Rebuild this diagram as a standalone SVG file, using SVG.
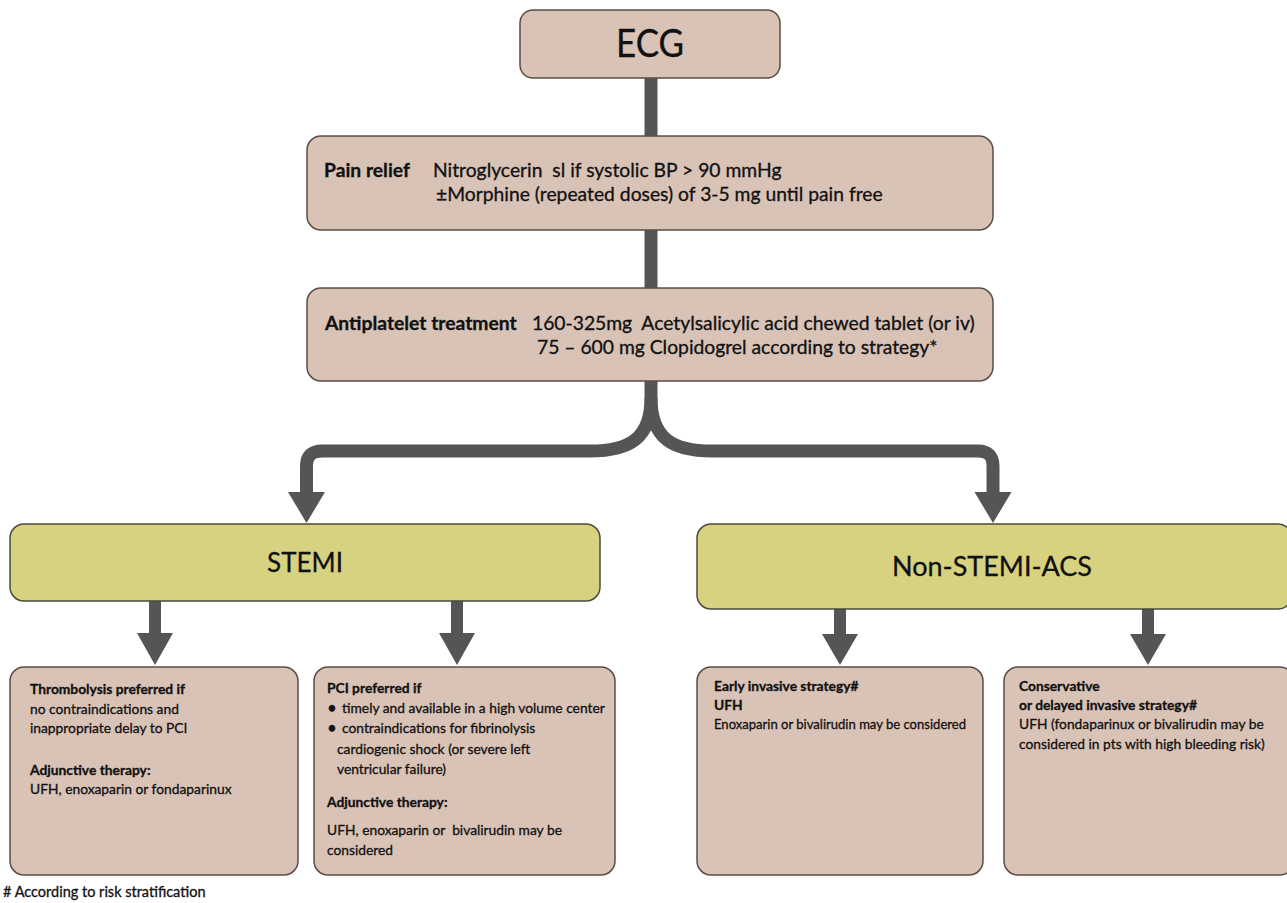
<svg xmlns="http://www.w3.org/2000/svg" width="1287" height="903" viewBox="0 0 1287 903">
<defs>
<style>
.tan{fill:#d9c2b6;stroke:#5b4c46;stroke-width:1.5}
.olive{fill:#d6d27f;stroke:#4b4a3c;stroke-width:1.5}
.t{font-family:Lato,"Liberation Sans",sans-serif;fill:#111;stroke:#111;stroke-width:0.3}
.b{font-weight:bold}
.s{font-size:13.8px}
.m{font-size:19.3px}
.con{fill:none;stroke:#555555;stroke-width:13}
.head{fill:#555555}
</style>
</defs>
<rect width="1287" height="903" fill="#ffffff"/>
<g id="connectors">
<line class="con" x1="651" y1="78" x2="651" y2="137"/>
<line class="con" x1="651" y1="230" x2="651" y2="289"/>
<path class="con" d="M651,381 L651,398 C651,438 630,451 590,451 L322,451 Q306.5,451 306.5,466 L306.5,494"/>
<path class="con" d="M651,398 C651,438 672,451 712,451 L978,451 Q993,451 993,466 L993,494"/>
<polygon class="head" points="288,492 325,492 306.5,523"/>
<polygon class="head" points="974.5,492 1011.5,492 993,523"/>
<rect class="head" x="149" y="601" width="12" height="33"/>
<polygon class="head" points="137,633 173,633 155,665"/>
<rect class="head" x="451" y="601" width="12" height="33"/>
<polygon class="head" points="439,633 475,633 457,665"/>
<rect class="head" x="834" y="609" width="12" height="26"/>
<polygon class="head" points="822,634 858,634 840,665"/>
<rect class="head" x="1142" y="609" width="12" height="26"/>
<polygon class="head" points="1130,634 1166,634 1148,665"/>
</g>
<g id="ecg">
<rect class="tan" x="520" y="10" width="260" height="68" rx="13"/>
<text class="t" x="650" y="57" font-size="38" text-anchor="middle" textLength="68" lengthAdjust="spacingAndGlyphs">ECG</text>
</g>
<g id="pain-relief">
<rect class="tan" x="307" y="136" width="686" height="94" rx="14"/>
<text class="t m b" x="324" y="177">Pain relief</text>
<text class="t m" x="433" y="177" xml:space="preserve">Nitroglycerin  sl if systolic BP &gt; 90 mmHg</text>
<text class="t m" x="436" y="201">±Morphine (repeated doses) of 3-5 mg until pain free</text>
</g>
<g id="antiplatelet">
<rect class="tan" x="307" y="288" width="686" height="93" rx="14"/>
<text class="t m b" x="325" y="330">Antiplatelet treatment</text>
<text class="t m" x="532" y="330" xml:space="preserve">160-325mg  Acetylsalicylic acid chewed tablet (or iv)</text>
<text class="t m" x="537" y="354">75 – 600 mg Clopidogrel according to strategy*</text>
</g>
<g id="stemi">
<rect class="olive" x="10" y="524" width="590" height="77" rx="14"/>
<text class="t" x="305" y="572" font-size="26" text-anchor="middle">STEMI</text>
</g>
<g id="non-stemi">
<rect class="olive" x="697" y="524" width="595" height="85" rx="14"/>
<text class="t" x="992" y="576" font-size="27" text-anchor="middle">Non-STEMI-ACS</text>
</g>
<g id="thrombolysis">
<rect class="tan" x="10" y="667" width="288" height="208" rx="14"/>
<text class="t s b" x="30" y="694">Thrombolysis preferred if</text>
<text class="t s" x="30" y="714">no contraindications and</text>
<text class="t s" x="30" y="733">inappropriate delay to PCI</text>
<text class="t s b" x="30" y="775">Adjunctive therapy:</text>
<text class="t s" x="30" y="794">UFH, enoxaparin or fondaparinux</text>
</g>
<g id="pci">
<rect class="tan" x="314" y="667" width="301" height="208" rx="14"/>
<text class="t s b" x="327" y="693">PCI preferred if</text>
<text class="t" x="327" y="714" font-size="17">•</text>
<text class="t s" x="342" y="713">timely and available in a high volume center</text>
<text class="t" x="327" y="734" font-size="17">•</text>
<text class="t s" x="342" y="733">contraindications for fibrinolysis</text>
<text class="t s" x="337" y="754">cardiogenic shock (or severe left</text>
<text class="t s" x="337" y="774">ventricular failure)</text>
<text class="t s b" x="327" y="807">Adjunctive therapy:</text>
<text class="t s" x="327" y="835" xml:space="preserve">UFH, enoxaparin or  bivalirudin may be</text>
<text class="t s" x="327" y="855">considered</text>
</g>
<g id="early-invasive">
<rect class="tan" x="697" y="667" width="286" height="208" rx="14"/>
<text class="t s b" x="714" y="691">Early invasive strategy#</text>
<text class="t s b" x="714" y="710">UFH</text>
<text class="t s" x="714" y="729" textLength="252" lengthAdjust="spacingAndGlyphs">Enoxaparin or bivalirudin may be considered</text>
</g>
<g id="conservative">
<rect class="tan" x="1004" y="667" width="290" height="208" rx="14"/>
<text class="t s b" x="1019" y="691">Conservative</text>
<text class="t s b" x="1019" y="710">or delayed invasive strategy#</text>
<text class="t s" x="1019" y="729">UFH (fondaparinux or bivalirudin may be</text>
<text class="t s" x="1019" y="749">considered in pts with high bleeding risk)</text>
</g>
<g id="footnote">
<text class="t" x="3" y="897" font-size="14.5">#  According to risk stratification</text>
</g>
</svg>
